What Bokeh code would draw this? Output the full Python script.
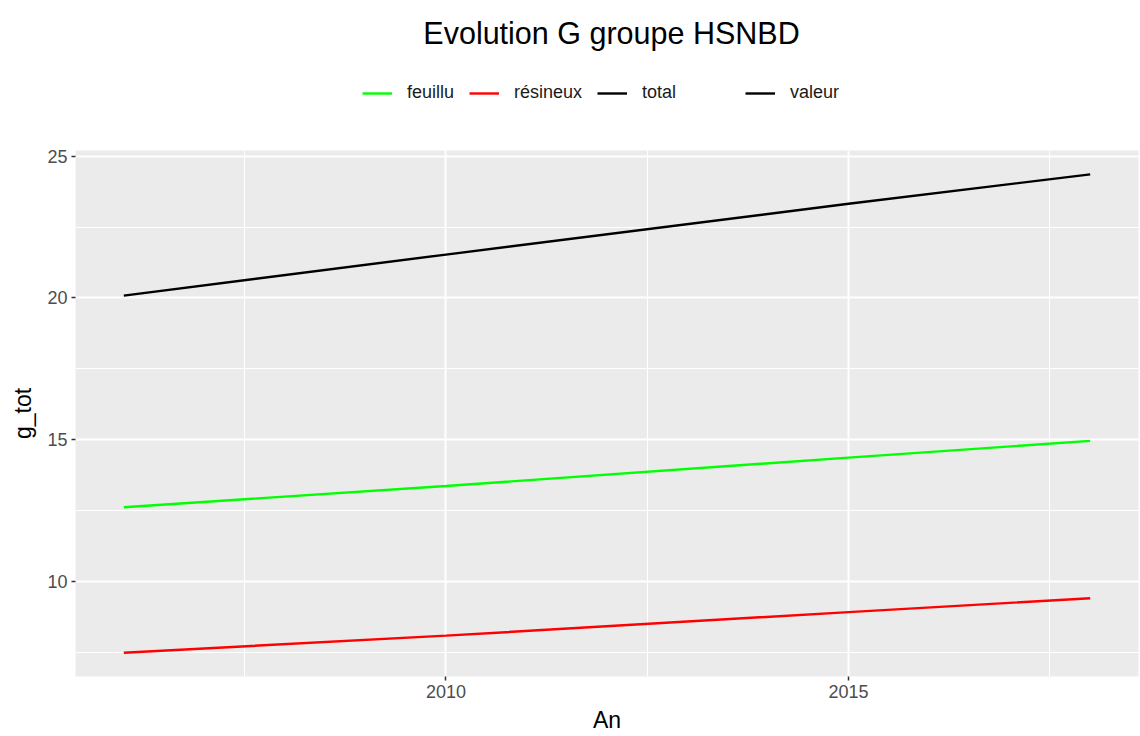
from bokeh.plotting import figure
from bokeh.models import Range1d, FixedTicker, Legend, LegendItem, Label
from bokeh.layouts import column
from bokeh.embed import file_html
from bokeh.resources import INLINE

years = [2006, 2010, 2015, 2018]
feuillu = [12.62, 13.37, 14.37, 14.96]
resineux = [7.49, 8.09, 8.92, 9.41]
total = [20.08, 21.53, 23.32, 24.36]

series_names = ["feuillu", "résineux", "total"]
series_colors = ["#00FF00", "#FF0000", "#000000"]
extra_label = "valeur"
title_text = "Evolution G groupe HSNBD"

FONT = "Liberation Sans"
TOP_H = 140
LEFT = 75

# ---- header (title + legends) ----
top = figure(width=1140, height=TOP_H, output_backend="svg", toolbar_location=None,
             x_axis_type=None, y_axis_type=None, x_range=Range1d(0, 1), y_range=Range1d(0, 1),
             min_border_left=LEFT, min_border_right=2, min_border_top=0, min_border_bottom=0)
top.outline_line_color = None
top.xgrid.visible = False
top.ygrid.visible = False
top.background_fill_color = "#FFFFFF"
top.border_fill_color = "#FFFFFF"

top.add_layout(Label(x=611 - LEFT, y=TOP_H - 32, x_units="screen", y_units="screen", text=title_text,
                     text_font=FONT, text_font_size="30.5px", text_color="#000000",
                     text_align="center", text_baseline="middle"))

nan = float("nan")
key_renderers = [top.line([nan, nan], [nan, nan], line_color=c, line_width=2.4) for c in series_colors]

legend_style = dict(orientation="horizontal", glyph_width=30, glyph_height=20,
                    label_standoff=15, spacing=15, margin=0, padding=0,
                    label_text_font=FONT, label_text_font_size="18px",
                    label_text_color="#1A1A1A", label_height=20,
                    border_line_color=None, background_fill_alpha=0)
leg1 = Legend(items=[LegendItem(label=n, renderers=[r]) for n, r in zip(series_names, key_renderers)],
              location=(362 - LEFT, TOP_H - 103), **legend_style)
leg2 = Legend(items=[LegendItem(label=extra_label, renderers=[key_renderers[2]])],
              location=(745 - LEFT, TOP_H - 103), **legend_style)
top.add_layout(leg1, "center")
top.add_layout(leg2, "center")

# ---- main chart ----
p = figure(width=1140, height=736 - TOP_H, output_backend="svg", toolbar_location=None,
           x_range=Range1d(2005.4, 2018.6), y_range=Range1d(6.65, 25.2),
           min_border_left=LEFT, min_border_right=2, min_border_top=10, min_border_bottom=60)

p.background_fill_color = "#EBEBEB"
p.border_fill_color = "#FFFFFF"
p.outline_line_color = None

p.xaxis.ticker = FixedTicker(ticks=[2010, 2015], minor_ticks=[2007.5, 2012.5, 2017.5])
p.yaxis.ticker = FixedTicker(ticks=[10, 15, 20, 25], minor_ticks=[7.5, 12.5, 17.5, 22.5])

for ax in (p.xaxis[0], p.yaxis[0]):
    ax.axis_line_color = None
    ax.major_tick_line_color = "#333333"
    ax.major_tick_line_width = 1.5
    ax.major_tick_out = 4
    ax.major_tick_in = 0
    ax.minor_tick_line_color = None
    ax.major_label_text_font = FONT
    ax.major_label_text_font_size = "18px"
    ax.major_label_text_color = "#4D4D4D"
    ax.axis_label_text_font = FONT
    ax.axis_label_text_font_size = "23px"
    ax.axis_label_text_font_style = "normal"
    ax.axis_label_text_color = "#000000"
    ax.major_label_standoff = 4

p.xaxis.axis_label = "An"
p.yaxis.axis_label = "g_tot"
p.xaxis.axis_label_standoff = 6
p.yaxis.axis_label_standoff = 8

for g in (p.xgrid[0], p.ygrid[0]):
    g.grid_line_color = "#FFFFFF"
    g.grid_line_width = 2
    g.minor_grid_line_color = "#FFFFFF"
    g.minor_grid_line_width = 1

for vals, col in zip([feuillu, resineux, total], series_colors):
    p.line(years, vals, line_color=col, line_width=2.4)

layout = column(top, p, spacing=0)
open("out.html", "w").write(file_html(layout, INLINE))
